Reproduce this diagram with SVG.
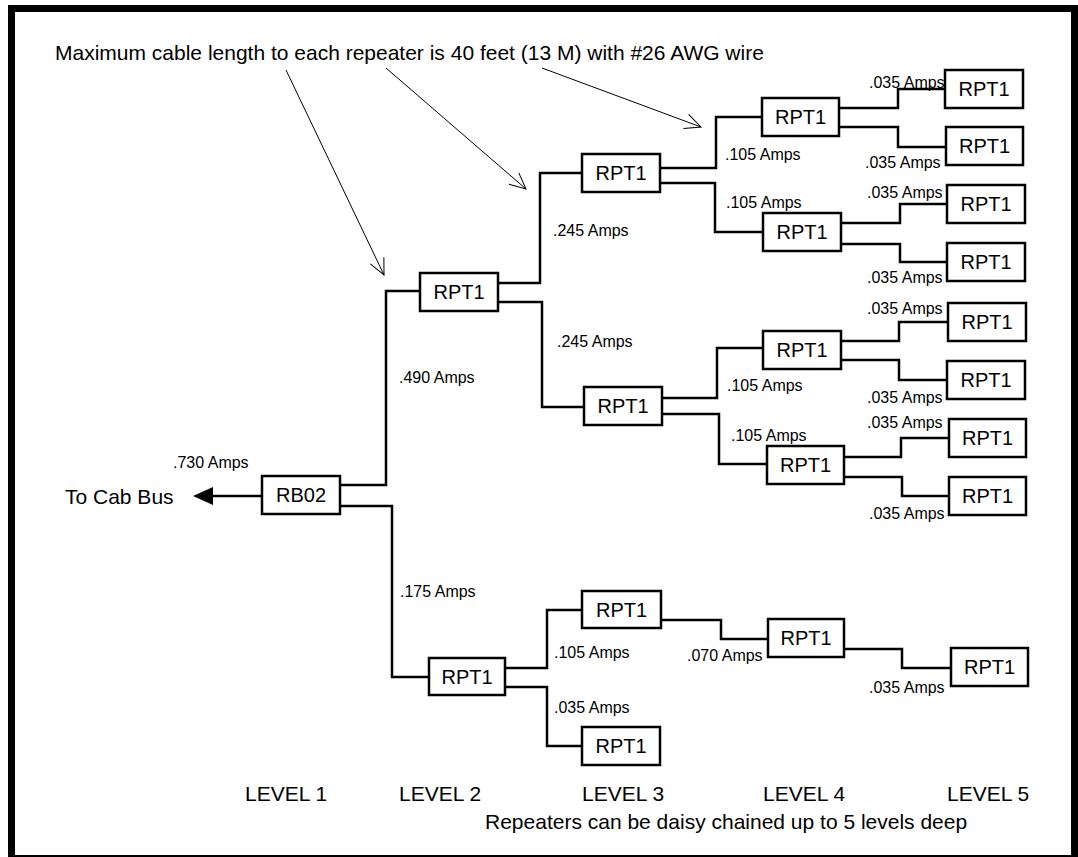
<svg xmlns="http://www.w3.org/2000/svg" width="1078" height="857" viewBox="0 0 1078 857">
<defs>
<style>
text{font-family:"Liberation Sans",Arial,sans-serif;fill:#000}
.box rect{fill:#fff;stroke:#000;stroke-width:2.5}
.box text{font-size:20px;text-anchor:middle}
.wire{fill:none;stroke:#000;stroke-width:2.5}
.note{fill:none;stroke:#000;stroke-width:1}
.amp{font-size:16px}
.big{font-size:21px}
</style>
<marker id="open" markerUnits="userSpaceOnUse" markerWidth="20" markerHeight="20" refX="0" refY="0" viewBox="-18 -10 20 20" orient="auto" overflow="visible">
<path d="M-16,-7.5 L0,0 L-16,7.5" fill="none" stroke="#000" stroke-width="1"/>
</marker>
</defs>
<rect x="11.5" y="8.5" width="1063" height="850" fill="#fff" stroke="#000" stroke-width="7"/>
<text class="big" x="55" y="60">Maximum cable length to each repeater is 40 feet (13 M) with #26 AWG wire</text>
<g id="connectors">
<path class="note" d="M286,70 L384,275" marker-end="url(#open)"/>
<path class="note" d="M386,68 L526,189" marker-end="url(#open)"/>
<path class="note" d="M542,68 L701,127" marker-end="url(#open)"/>
<path class="wire" d="M262,496 H210"/>
<polygon points="193,496 213,487 213,505" fill="#000"/>
<path class="wire" d="M340,485 H386 V291 H420"/>
<path class="wire" d="M340,506 H392 V677 H429"/>
<path class="wire" d="M498,283 H540 V173 H582"/>
<path class="wire" d="M498,302 H542 V407 H584"/>
<path class="wire" d="M660,168 H716 V117 H762"/>
<path class="wire" d="M660,183 H715 V232 H763"/>
<path class="wire" d="M839,108 H898 V89 H945"/>
<path class="wire" d="M839,127 H898 V147 H946"/>
<path class="wire" d="M841,223 H900 V204 H947"/>
<path class="wire" d="M841,244 H900 V262 H947"/>
<path class="wire" d="M662,398 H717 V348 H763"/>
<path class="wire" d="M662,414 H719 V464 H767"/>
<path class="wire" d="M841,341 H899 V322 H948"/>
<path class="wire" d="M841,360 H899 V380 H947"/>
<path class="wire" d="M844,457 H901 V438 H949"/>
<path class="wire" d="M844,477 H902 V496 H949"/>
<path class="wire" d="M505,668 H547 V610 H582"/>
<path class="wire" d="M505,687 H547 V746 H582"/>
<path class="wire" d="M661,620 H721 V639 H768"/>
<path class="wire" d="M844,649 H902 V668 H951"/>
</g>
<g id="n-rb02" class="box"><rect x="262" y="476" width="78" height="38"/><text x="301" y="502">RB02</text></g>
<g id="n-l2a" class="box"><rect x="420" y="273" width="78" height="38"/><text x="459" y="299">RPT1</text></g>
<g id="n-l3a" class="box"><rect x="582" y="154" width="78" height="38"/><text x="621" y="180">RPT1</text></g>
<g id="n-l3b" class="box"><rect x="584" y="387" width="78" height="38"/><text x="623" y="413">RPT1</text></g>
<g id="n-l4a" class="box"><rect x="762" y="98" width="77" height="38"/><text x="800.5" y="124">RPT1</text></g>
<g id="n-l4b" class="box"><rect x="763" y="213" width="78" height="38"/><text x="802" y="239">RPT1</text></g>
<g id="n-l4c" class="box"><rect x="763" y="331" width="78" height="38"/><text x="802" y="357">RPT1</text></g>
<g id="n-l4d" class="box"><rect x="767" y="446" width="77" height="38"/><text x="805.5" y="472">RPT1</text></g>
<g id="n-l5a" class="box"><rect x="945" y="70" width="78" height="38"/><text x="984" y="96">RPT1</text></g>
<g id="n-l5b" class="box"><rect x="946" y="127" width="77" height="38"/><text x="984.5" y="153">RPT1</text></g>
<g id="n-l5c" class="box"><rect x="947" y="185" width="78" height="38"/><text x="986" y="211">RPT1</text></g>
<g id="n-l5d" class="box"><rect x="947" y="243" width="78" height="38"/><text x="986" y="269">RPT1</text></g>
<g id="n-l5e" class="box"><rect x="948" y="303" width="78" height="38"/><text x="987" y="329">RPT1</text></g>
<g id="n-l5f" class="box"><rect x="947" y="361" width="78" height="38"/><text x="986" y="387">RPT1</text></g>
<g id="n-l5g" class="box"><rect x="949" y="419" width="77" height="38"/><text x="987.5" y="445">RPT1</text></g>
<g id="n-l5h" class="box"><rect x="949" y="477" width="77" height="38"/><text x="987.5" y="503">RPT1</text></g>
<g id="n-l2b" class="box"><rect x="429" y="658" width="76" height="37"/><text x="467" y="684">RPT1</text></g>
<g id="n-l3c" class="box"><rect x="582" y="591" width="79" height="37"/><text x="621.5" y="617">RPT1</text></g>
<g id="n-l3d" class="box"><rect x="582" y="727" width="78" height="38"/><text x="621" y="753">RPT1</text></g>
<g id="n-l4e" class="box"><rect x="768" y="619" width="76" height="38"/><text x="806" y="645">RPT1</text></g>
<g id="n-l5i" class="box"><rect x="951" y="648" width="77" height="38"/><text x="989.5" y="674">RPT1</text></g>
<g id="labels">
<text class="big" x="65" y="504">To Cab Bus</text>
<text class="amp" x="173" y="468">.730 Amps</text>
<text class="amp" x="399" y="383">.490 Amps</text>
<text class="amp" x="400" y="597">.175 Amps</text>
<text class="amp" x="553" y="236">.245 Amps</text>
<text class="amp" x="557" y="347">.245 Amps</text>
<text class="amp" x="725" y="160">.105 Amps</text>
<text class="amp" x="726" y="208">.105 Amps</text>
<text class="amp" x="727" y="391">.105 Amps</text>
<text class="amp" x="731" y="441">.105 Amps</text>
<text class="amp" x="869" y="88">.035 Amps</text>
<text class="amp" x="865" y="168">.035 Amps</text>
<text class="amp" x="867" y="198">.035 Amps</text>
<text class="amp" x="867" y="283">.035 Amps</text>
<text class="amp" x="867" y="314">.035 Amps</text>
<text class="amp" x="867" y="403">.035 Amps</text>
<text class="amp" x="867" y="428">.035 Amps</text>
<text class="amp" x="869" y="519">.035 Amps</text>
<text class="amp" x="554" y="658">.105 Amps</text>
<text class="amp" x="554" y="713">.035 Amps</text>
<text class="amp" x="687" y="661">.070 Amps</text>
<text class="amp" x="869" y="693">.035 Amps</text>
<text class="big" x="245" y="801">LEVEL 1</text>
<text class="big" x="399" y="801">LEVEL 2</text>
<text class="big" x="582" y="801">LEVEL 3</text>
<text class="big" x="763" y="801">LEVEL 4</text>
<text class="big" x="947" y="801">LEVEL 5</text>
<text class="big" x="485" y="829">Repeaters can be daisy chained up to 5 levels deep</text>
</g>
</svg>
